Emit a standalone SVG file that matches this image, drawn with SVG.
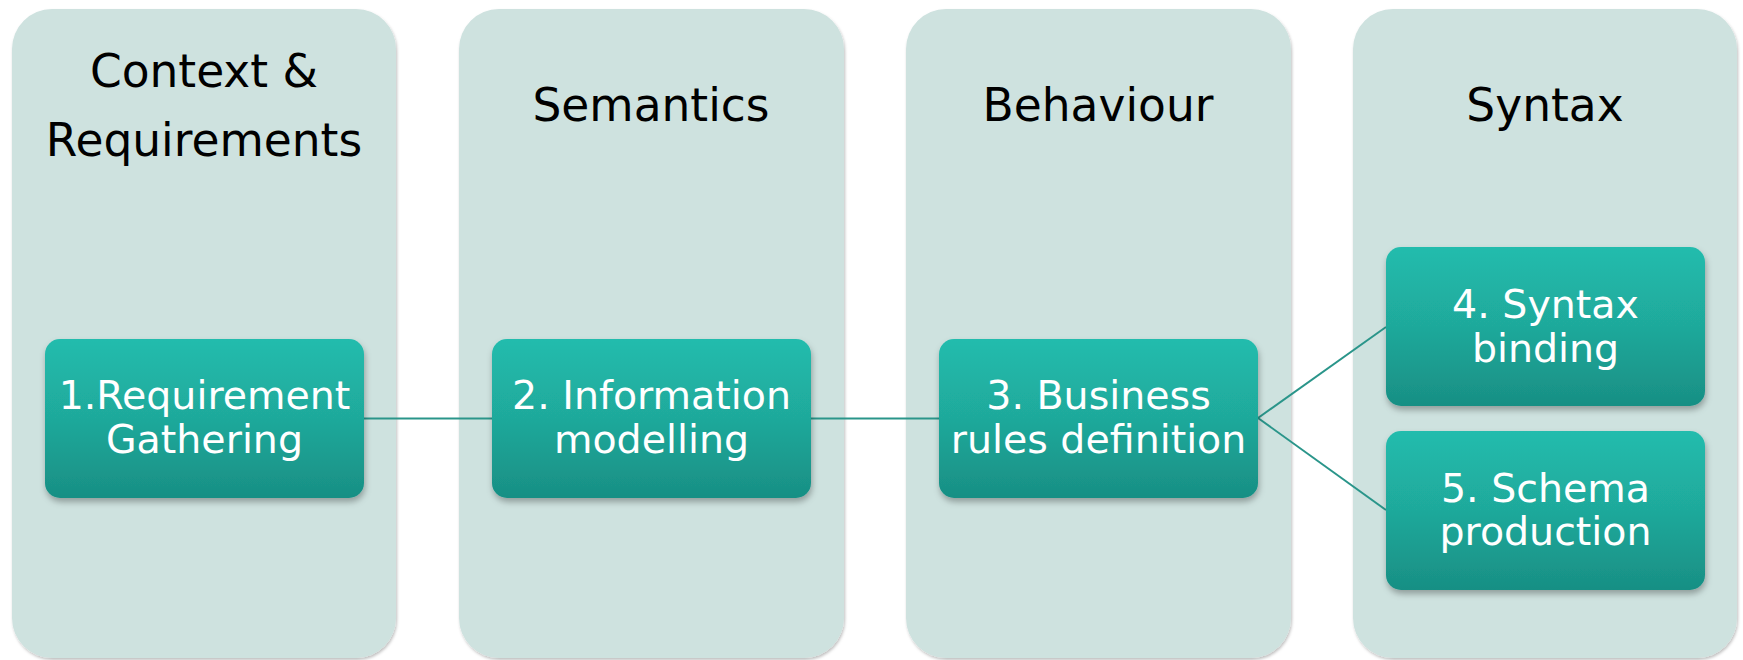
<svg xmlns="http://www.w3.org/2000/svg" width="1743" height="660" viewBox="0 0 1743 660">
<style>
.col{fill:#cee2df;}
.node{fill:url(#ng);}
.hdr{font-family:"DejaVu Sans",Verdana,sans-serif;font-size:45.5px;fill:#000;text-anchor:middle;}
.lbl{font-family:"DejaVu Sans",Verdana,sans-serif;font-size:39.5px;fill:#fff;text-anchor:middle;}
.conn{stroke:#2a958a;stroke-width:2;fill:none;}
</style>
<defs>
<linearGradient id="ng" x1="0" y1="0" x2="0" y2="1">
<stop offset="0" stop-color="#22bcad"/>
<stop offset="0.5" stop-color="#1fa99b"/>
<stop offset="1" stop-color="#188f84"/>
</linearGradient>
<filter id="cs" x="-5%" y="-5%" width="110%" height="110%">
<feDropShadow dx="1" dy="2" stdDeviation="1.5" flood-color="#000" flood-opacity="0.25"/>
</filter>
<filter id="ns" x="-10%" y="-10%" width="120%" height="125%">
<feDropShadow dx="1" dy="4" stdDeviation="3" flood-color="#000" flood-opacity="0.3"/>
</filter>
</defs>
<rect width="1743" height="660" fill="#fff"/>
<g id="col1"><rect class="col" x="12" y="9" width="384" height="649" rx="40" filter="url(#cs)"/>
<text class="hdr" x="204" y="87">Context &amp;</text><text class="hdr" x="204" y="156">Requirements</text></g>
<g id="col2"><rect class="col" x="459" y="9" width="385" height="649" rx="40" filter="url(#cs)"/>
<text class="hdr" x="651" y="121">Semantics</text></g>
<g id="col3"><rect class="col" x="906" y="9" width="385" height="649" rx="40" filter="url(#cs)"/>
<text class="hdr" x="1098" y="121">Behaviour</text></g>
<g id="col4"><rect class="col" x="1353" y="9" width="384" height="649" rx="40" filter="url(#cs)"/>
<text class="hdr" x="1545" y="121">Syntax</text></g>
<g id="connectors">
<line class="conn" x1="364" y1="418.5" x2="492" y2="418.5"/>
<line class="conn" x1="811" y1="418.5" x2="939" y2="418.5"/>
<line class="conn" x1="1258" y1="418" x2="1386" y2="327"/>
<line class="conn" x1="1258" y1="418" x2="1386" y2="510"/>
</g>
<g id="n1"><rect class="node" x="45" y="339" width="319" height="159" rx="15" filter="url(#ns)"/>
<text class="lbl" x="204.5" y="409">1.Requirement</text><text class="lbl" x="204.5" y="453">Gathering</text></g>
<g id="n2"><rect class="node" x="492" y="339" width="319" height="159" rx="15" filter="url(#ns)"/>
<text class="lbl" x="651.5" y="409">2. Information</text><text class="lbl" x="651.5" y="453">modelling</text></g>
<g id="n3"><rect class="node" x="939" y="339" width="319" height="159" rx="15" filter="url(#ns)"/>
<text class="lbl" x="1098.5" y="409">3. Business</text><text class="lbl" x="1098.5" y="453">rules definition</text></g>
<g id="n4"><rect class="node" x="1386" y="247" width="319" height="159" rx="15" filter="url(#ns)"/>
<text class="lbl" x="1545.5" y="318">4. Syntax</text><text class="lbl" x="1545.5" y="362">binding</text></g>
<g id="n5"><rect class="node" x="1386" y="431" width="319" height="159" rx="15" filter="url(#ns)"/>
<text class="lbl" x="1545.5" y="502">5. Schema</text><text class="lbl" x="1545.5" y="545">production</text></g>
</svg>
